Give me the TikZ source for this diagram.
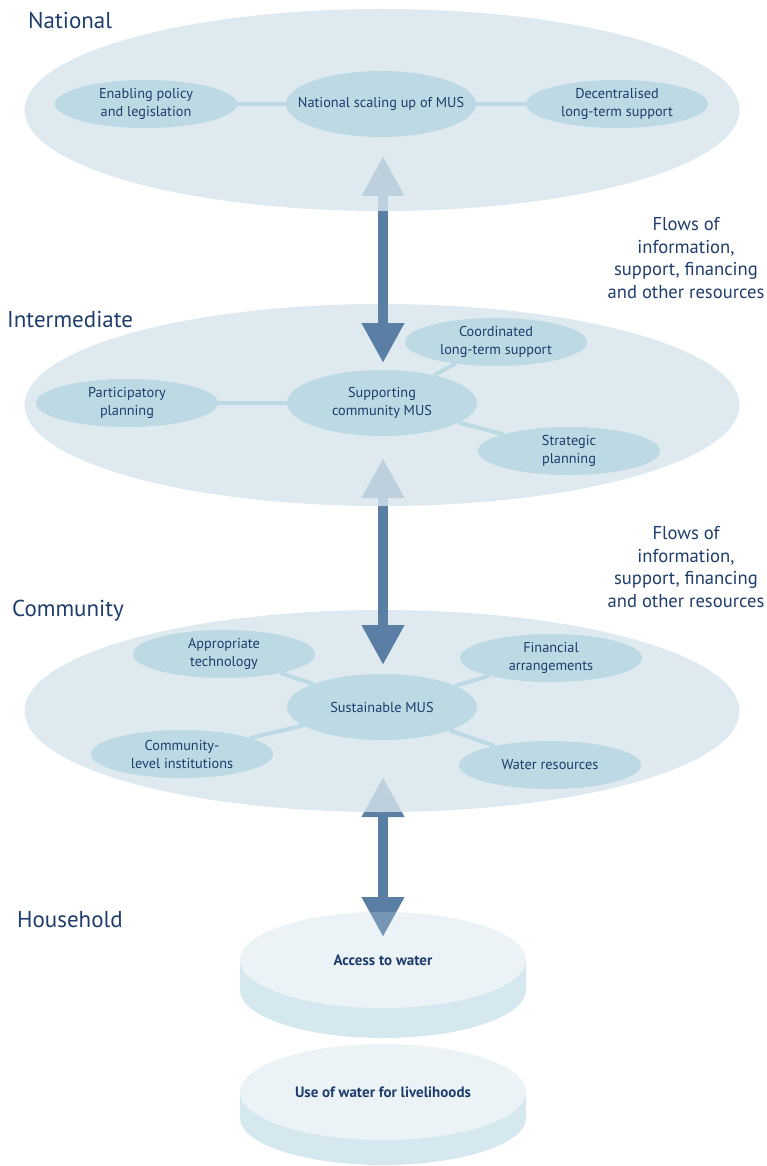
\documentclass[tikz,border=0pt]{standalone}
\usepackage{fontspec}
\setmainfont{PT Sans}
\usetikzlibrary{arrows.meta,shapes.geometric}
\definecolor{pNavy}{RGB}{31,61,108}
\definecolor{pArrow}{RGB}{90,126,164}
\definecolor{pPale}{RGB}{214,229,236}
\definecolor{pSub}{RGB}{188,217,228}
\definecolor{pTop}{RGB}{235,243,247}
\definecolor{pSide}{RGB}{214,232,239}
\tikzset{
    big/.style={ellipse, inner sep=0pt, minimum width=715pt, minimum height=202pt, fill=pPale, fill opacity=0.8},
    sub/.style={ellipse, inner ysep=0pt, inner xsep=-25pt, minimum width=182pt, minimum height=48pt, fill=pSub, text=pNavy, align=center, font=\fontsize{14.3}{18}\selectfont},
    hub/.style={sub, minimum width=190pt, minimum height=66pt},
    link/.style={line width=4pt, pSub},
    flow/.style={line width=10pt, pArrow, {Triangle[width=40pt,length=40pt]}-{Triangle[width=40pt,length=40pt]}},
    lvl/.style={anchor=base west, inner sep=0pt, text=pNavy, font=\fontsize{23}{27}\selectfont},
    note/.style={text=pNavy, align=center, font=\fontsize{18.6}{22.5}\selectfont},
    disk/.style={ellipse, inner sep=0pt, minimum width=286pt, minimum height=96pt, fill=pTop, text=pNavy, font=\bfseries\fontsize{15}{18}\selectfont}
}

\begin{document}
\begin{tikzpicture}[x=1pt,y=-1pt]
\useasboundingbox (0,0) rectangle (767,1166);
\fill[pSide] (240,1094) -- (240,1118) arc[start angle=180, end angle=0, x radius=143, y radius=47] -- (526,1094) -- cycle;
\node[disk] (use) at (383,1092) {Use of water for livelihoods};
\fill[pSide] (240,960) -- (240,990) arc[start angle=180, end angle=0, x radius=143, y radius=48] -- (526,960) -- cycle;
\fill[pTop] (383,960) ellipse[x radius=143, y radius=48];
\coordinate (c3) at (383,777);
\coordinate (h1) at (383,937);
\draw[flow] (c3) -- (h1);
\node[disk, fill opacity=0.2, text opacity=1] (acc) at (383,960) {Access to water};

\node[big] (comm) at (382,711) {};
\node[hub] (sust) at (382,707) {Sustainable MUS};
\node[sub] (tech) at (224,654) {Appropriate\\technology};
\node[sub] (fin) at (551,658) {Financial\\arrangements};
\node[sub] (inst) at (182,754) {Community-\\level institutions};
\node[sub] (wat) at (550,765) {Water resources};
\draw[link] (sust) -- (tech);
\draw[link] (sust) -- (fin);
\draw[link] (sust) -- (inst);
\draw[link] (sust) -- (wat);
\coordinate (i3) at (383,458);
\coordinate (c1) at (383,665);
\draw[flow] (i3) -- (c1);

\node[big] (inter) at (382,405) {};
\node[hub] (supp) at (382,403) {Supporting\\community MUS};
\node[sub] (part) at (127,403) {Participatory\\planning};
\node[sub] (coord) at (496,342) {Coordinated\\long-term support};
\node[sub] (strat) at (569,451) {Strategic\\planning};
\draw[link] (supp) -- (part);
\draw[link] (supp) -- (coord);
\draw[link] (supp) -- (strat);
\coordinate (n3) at (383,156);
\coordinate (i1) at (383,363);
\draw[flow] (n3) -- (i1);

\node[big] (nat) at (382,110) {};
\node[hub] (scal) at (381,104) {National scaling up of MUS};
\node[sub] (enab) at (146,104) {Enabling policy\\and legislation};
\node[sub] (dec) at (617,104) {Decentralised\\long-term support};
\draw[link] (scal) -- (enab);
\draw[link] (scal) -- (dec);

\node[lvl] (lnat) at (28,29) {National};
\node[lvl] (linter) at (7,327) {Intermediate};
\node[lvl] (lcomm) at (12,616) {Community};
\node[lvl] (lhouse) at (17,927) {Household};
\node[note] (flow1) at (686,258) {Flows of\\information,\\support, financing\\and other resources};
\node[note] (flow2) at (686,567) {Flows of\\information,\\support, financing\\and other resources};
\end{tikzpicture}
\end{document}
